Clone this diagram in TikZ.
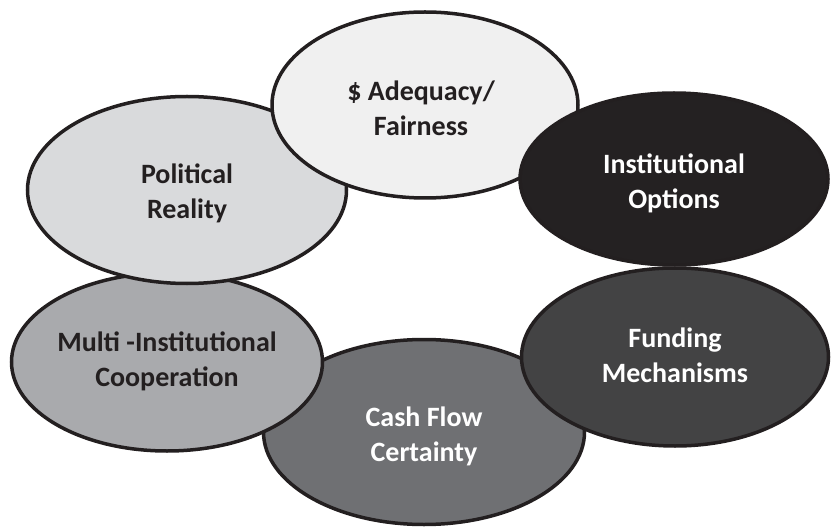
\documentclass[tikz,border=0pt]{standalone}
\usepackage{fontspec}
\setmainfont{Carlito}
\usetikzlibrary{shapes.geometric}

\definecolor{inkdark}{HTML}{231F20}
\definecolor{fairfill}{HTML}{F0F0F0}
\definecolor{politicfill}{HTML}{D9DADC}
\definecolor{multifill}{HTML}{A9AAAD}
\definecolor{cashfill}{HTML}{6F7073}
\definecolor{fundfill}{HTML}{434344}
\definecolor{instfill}{HTML}{242122}

\tikzset{
	bubble/.style={ellipse, draw=inkdark, line width=3.5pt, inner sep=0pt},
	bubbletext/.style={align=center, inner sep=0pt, font=\fontsize{28}{35}\selectfont\bfseries},
}

\begin{document}
\begin{tikzpicture}[x=1pt, y=-1pt]
		\useasboundingbox (0, 0) rectangle (832, 529);

		% lower ring first, the upper ellipses lie over it
		\node [bubble, fill=cashfill, minimum width=321pt, minimum height=185pt] (cash) at (424, 432) {};
		\node [bubbletext, text=white] (cash-text) at (424, 436) {Cash Flow\\Certainty};

		\node [bubble, fill=multifill, minimum width=311pt, minimum height=178pt] (multi) at (167, 362) {};
		\node [bubbletext, text=inkdark] (multi-text) at (167, 361) {Multi -Institutional\\Cooperation};

		\node [bubble, fill=fundfill, minimum width=307pt, minimum height=178pt] (fund) at (675, 357) {};
		\node [bubbletext, text=white] (fund-text) at (675, 355) {Funding\\Mechanisms};

		% upper ring
		\node [bubble, fill=politicfill, minimum width=319pt, minimum height=187pt] (politic) at (187, 190) {};
		\node [bubbletext, text=inkdark] (politic-text) at (187, 193) {Political\\Reality};

		\node [bubble, fill=fairfill, minimum width=306pt, minimum height=186pt] (fair) at (425, 105) {};
		\node [bubbletext, text=inkdark] (fair-text) at (421, 108) {\$ Adequacy/\\Fairness};

		\node [bubble, fill=instfill, minimum width=308pt, minimum height=172pt] (inst) at (674, 179) {};
		\node [bubbletext, text=white] (inst-text) at (674, 183) {Institutional\\Options};
\end{tikzpicture}
\end{document}
